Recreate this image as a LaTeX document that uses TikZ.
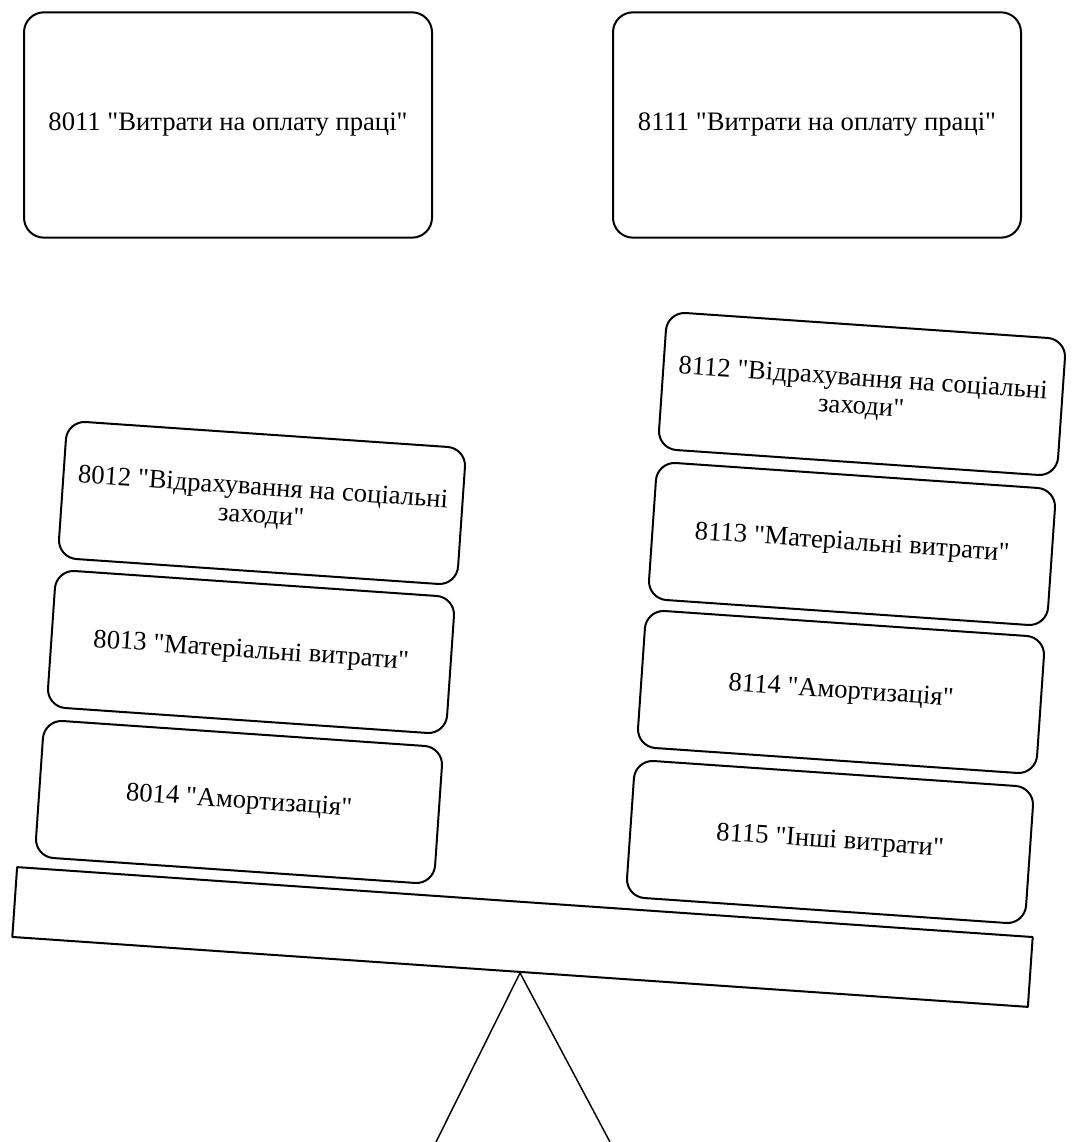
\documentclass[tikz,border=0pt]{standalone}
\usepackage{fontspec}
\setmainfont{Liberation Serif}[Ligatures=TeXOff]
\usetikzlibrary{positioning}

\begin{document}
\begin{tikzpicture}[x=0.75pt, y=0.75pt, line join=round,
    every node/.style={font=\fontsize{20}{21}\selectfont, align=center},
    topbox/.style={draw, line width=1.5pt, rounded corners=15pt,
      minimum width=306pt, minimum height=169pt},
    acct/.style={draw, line width=1.5pt, rounded corners=14pt,
      minimum width=300pt, minimum height=103pt, rotate=-3.94}]
  \useasboundingbox (0,0) rectangle (1071,1142);
  % wages accounts on top
  \node[topbox] (a8011) at (228,1017) {8011 "Витрати на оплату праці"};
  \node[topbox] (a8111) at (817,1017) {8111 "Витрати на оплату праці"};
  % left pan
  \node[acct] (a8012) at (262,639) {8012 "Відрахування на соціальні\\заходи"};
  \node[acct] (a8013) at (251,490) {8013 "Матеріальні витрати"};
  \node[acct] (a8014) at (239,340) {8014 "Амортизація"};
  % right pan
  \node[acct] (a8112) at (862,748) {8112 "Відрахування на соціальні\\заходи"};
  \node[acct] (a8113) at (852,598) {8113 "Матеріальні витрати"};
  \node[acct] (a8114) at (841,450) {8114 "Амортизація"};
  \node[acct] (a8115) at (830,300) {8115 "Інші витрати"};
  % beam and support
  \node[draw, line width=1.5pt, minimum width=763.5pt, minimum height=52.5pt,
    inner sep=0pt, rotate=-3.94] (beam) at (522.5,205) {};
  \coordinate (footL) at (436,0);
  \coordinate (footR) at (610,0);
  \draw[line width=1.1pt] (footL) -- (beam.south) -- (footR);
\end{tikzpicture}
\end{document}
